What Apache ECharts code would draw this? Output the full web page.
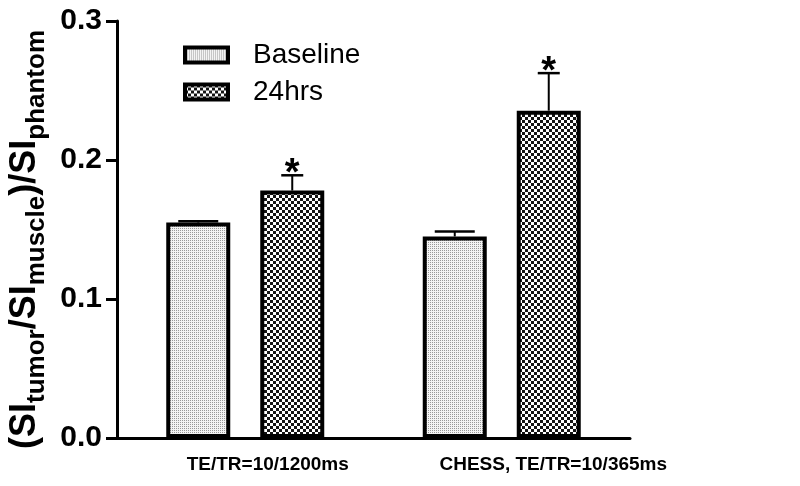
<!DOCTYPE html>
<html>
<head>
<meta charset="utf-8">
<script src="https://cdn.jsdelivr.net/npm/echarts@6/dist/echarts.min.js"></script>
<style>html,body{margin:0;padding:0;background:#fff}#c{width:800px;height:486px}</style>
</head>
<body>
<div id="c"></div>
<script>
// ---- data ----
const categories = ['TE/TR=10/1200ms', 'CHESS, TE/TR=10/365ms'];
const seriesNames = ['Baseline', '24hrs'];
const baseline = [0.155, 0.145];
const baselineErr = [0.001, 0.0035];
const hrs24 = [0.178, 0.2355];
const hrs24Err = [0.011, 0.027];
const baselineSig = ['', ''];
const hrs24Sig = ['*', '*'];
const yMin = 0, yMax = 0.3, yStep = 0.1;

// ---- patterns ----
function dotPatternMake() {
  const cv = document.createElement('canvas');
  cv.width = 2; cv.height = 2;
  const ctx = cv.getContext('2d');
  ctx.fillStyle = '#f4f4f4'; ctx.fillRect(0, 0, 2, 2);
  ctx.fillStyle = '#999999'; ctx.fillRect(0, 0, 1, 1);
  return { image: cv, repeat: 'repeat' };
}
function checkPatternMake(size, cell, c1, c2) {
  const cv = document.createElement('canvas');
  cv.width = size; cv.height = size;
  const ctx = cv.getContext('2d');
  ctx.fillStyle = c2; ctx.fillRect(0, 0, size, size);
  ctx.fillStyle = c1;
  for (let y = 0; y < size; y += cell) for (let x = 0; x < size; x += cell) {
    if (((x / cell) + (y / cell)) % 2 === 0) ctx.fillRect(x, y, cell, cell);
  }
  return { image: cv, repeat: 'repeat' };
}
const dotPattern = dotPatternMake();
const checkPattern = checkPatternMake(6, 3, '#141414', '#ffffff');

const BAR_W = 64, BAR_GAP = 30; // px
const OFFSET = (BAR_W + BAR_GAP) / 2;
const FONT = '"Liberation Sans", Arial, Helvetica, sans-serif';

function errSeries(name, vals, errs, sigs, off, capW) {
  return {
    type: 'custom',
    name: name + ' err',
    z: 5,
    data: vals.map((v, i) => [i, v, errs[i]]),
    renderItem: function (params, api) {
      const i = api.value(0), v = api.value(1), e = api.value(2);
      const p0 = api.coord([i, v]);
      const p1 = api.coord([i, v + e]);
      const x = p0[0] + off;
      const children = [
        { type: 'line', shape: { x1: x, y1: p0[1], x2: x, y2: p1[1] }, style: { stroke: '#000', lineWidth: 2 } },
        { type: 'line', shape: { x1: x - capW / 2, y1: p1[1], x2: x + capW / 2, y2: p1[1] }, style: { stroke: '#000', lineWidth: 2.5 } }
      ];
      const s = sigs[params.dataIndex];
      if (s) {
        children.push({ type: 'text', style: { text: s, x: x, y: p1[1] - 1, align: 'center', verticalAlign: 'middle',
          font: 'bold 38px ' + FONT, fill: '#000' } });
      }
      return { type: 'group', children: children };
    }
  };
}

const chart = echarts.init(document.getElementById('c'), null, { renderer: 'canvas' });
chart.setOption({
  backgroundColor: '#fff',
  animation: false,
  grid: { left: 117, right: 170, top: 21, bottom: 48, containLabel: false, outerBoundsMode: 'none' },
  legend: {
    orient: 'vertical', left: 178, top: 36, itemWidth: 43, itemHeight: 15, itemGap: 9,
    icon: 'rect',
    itemStyle: { borderColor: '#000', borderWidth: 4 },
    data: seriesNames,
    textStyle: { fontSize: 28, color: '#000', fontFamily: FONT, padding: [0, 0, 0, 20] }
  },
  xAxis: {
    type: 'category', data: categories,
    axisLine: { lineStyle: { color: '#000', width: 3 } },
    axisTick: { alignWithLabel: true, length: 9, lineStyle: { color: '#000', width: 3 } },
    axisLabel: {
      margin: 17, color: '#000',
      formatter: function (v, i) { return (i === 0 ? '{a|' : '{b|') + v + '}'; },
      rich: {
        a: { fontSize: 19, fontWeight: 'bold', fontFamily: FONT, padding: [0, 0, 0, 45] },
        b: { fontSize: 19, fontWeight: 'bold', fontFamily: FONT, padding: [0, 0, 0, 103] }
      }
    }
  },
  yAxis: {
    type: 'value', min: yMin, max: yMax, interval: yStep,
    splitLine: { show: false },
    axisLine: { show: true, lineStyle: { color: '#000', width: 3 } },
    axisTick: { show: true, length: 11, lineStyle: { color: '#000', width: 3 } },
    axisLabel: { color: '#000', fontSize: 30, fontWeight: 'bold', margin: 15, fontFamily: FONT,
      formatter: v => v.toFixed(1) },
    name: '{m|(SI}{s|tumor}{m|/SI}{s|muscle}{m|)/SI}{s|phantom}',
    nameLocation: 'middle', nameGap: 67, nameRotate: 90,
    nameTextStyle: {
      padding: [0, 20, 0, 0],
      rich: {
        m: { fontSize: 36, fontWeight: 'bold', color: '#000', fontFamily: FONT, lineHeight: 48, verticalAlign: 'middle' },
        s: { fontSize: 26, fontWeight: 'bold', color: '#000', fontFamily: FONT, lineHeight: 48, verticalAlign: 'bottom' }
      }
    }
  },
  series: [
    { name: seriesNames[0], type: 'bar', data: baseline, barWidth: BAR_W, barGap: (BAR_GAP / BAR_W * 100) + '%',
      itemStyle: { color: dotPattern, borderColor: '#000', borderWidth: 4 } },
    { name: seriesNames[1], type: 'bar', data: hrs24, barWidth: BAR_W, barGap: (BAR_GAP / BAR_W * 100) + '%',
      itemStyle: { color: checkPattern, borderColor: '#000', borderWidth: 4 } },
    errSeries(seriesNames[0], baseline, baselineErr, baselineSig, -OFFSET, 40),
    errSeries(seriesNames[1], hrs24, hrs24Err, hrs24Sig, OFFSET, 22)
  ]
});
</script>
</body>
</html>
